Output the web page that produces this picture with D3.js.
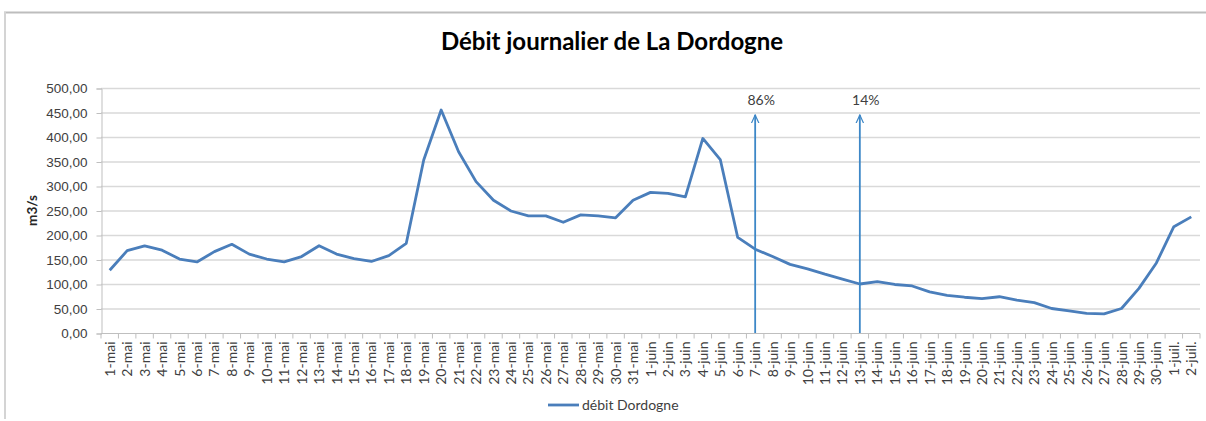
<!DOCTYPE html>
<html>
<head>
<meta charset="utf-8">
<script src="https://cdn.jsdelivr.net/npm/d3@7"></script>
<style>
  body { margin: 0; background: #fff; }
  svg { display: block; font-family: Lato, "Open Sans", sans-serif; }
</style>
</head>
<body>
<svg id="chart" width="1206" height="421"></svg>
<script>
// days shown on the x axis
const days = [
  "1-mai","2-mai","3-mai","4-mai","5-mai","6-mai","7-mai","8-mai","9-mai","10-mai",
  "11-mai","12-mai","13-mai","14-mai","15-mai","16-mai","17-mai","18-mai","19-mai","20-mai",
  "21-mai","22-mai","23-mai","24-mai","25-mai","26-mai","27-mai","28-mai","29-mai","30-mai","31-mai",
  "1-juin","2-juin","3-juin","4-juin","5-juin","6-juin","7-juin","8-juin","9-juin","10-juin",
  "11-juin","12-juin","13-juin","14-juin","15-juin","16-juin","17-juin","18-juin","19-juin","20-juin",
  "21-juin","22-juin","23-juin","24-juin","25-juin","26-juin","27-juin","28-juin","29-juin","30-juin",
  "1-juil.","2-juil."
];

// débit Dordogne (m3/s)
const debit = [
  128, 168, 178, 169, 151, 145, 166, 181, 161, 151,
  145, 156, 178, 161, 152, 146, 158, 183, 353, 455,
  370, 309, 271, 249, 239, 239, 226, 241, 239, 235, 271,
  287, 285, 278, 397, 354, 195, 171, 156, 140, 131,
  120, 110, 100, 105, 99, 96, 84, 77, 73, 70,
  74, 67, 62, 50, 45, 40, 39, 50, 91, 143,
  217, 237
];

const yTicks = [0, 50, 100, 150, 200, 250, 300, 350, 400, 450, 500];

// vertical arrows with their percentages
const markers = [
  { day: "7-juin", label: "86%" },
  { day: "13-juin", label: "14%" }
];

const svg = d3.select("#chart");
const plotL = 101, plotR = 1200, plotT = 88, plotB = 333;

// chart frame
svg.append("line").attr("x1", 4).attr("x2", 1206).attr("y1", 12.5).attr("y2", 12.5)
  .attr("stroke", "#bdbdbd").attr("stroke-width", 2);
svg.append("line").attr("x1", 5).attr("x2", 5).attr("y1", 12).attr("y2", 419)
  .attr("stroke", "#d4d4d4").attr("stroke-width", 2);

const x = d3.scaleBand().domain(days).range([plotL, plotR]);
const y = d3.scaleLinear().domain([0, 500]).range([plotB, plotT]);

const fmt = v => d3.format(".2f")(v).replace(".", ",");

// horizontal grid
svg.append("g")
  .selectAll("line")
  .data(yTicks.filter(d => d > 0))
  .join("line")
  .attr("x1", plotL).attr("x2", plotR)
  .attr("y1", d => y(d) + 0.5).attr("y2", d => y(d) + 0.5)
  .attr("stroke", "#d9d9d9").attr("stroke-width", 1.3);

// y axis
const yAxis = svg.append("g")
  .attr("transform", `translate(${plotL + 0.5},0.5)`)
  .call(d3.axisLeft(y).tickValues(yTicks).tickFormat(fmt).tickSizeOuter(0).tickSize(5).tickPadding(9));
yAxis.select(".domain").attr("stroke", "#bfbfbf");
yAxis.selectAll(".tick line").attr("stroke", "#bfbfbf");
yAxis.selectAll("text").attr("fill", "#404040").style("font-size", "13.5px");

svg.append("text")
  .attr("transform", `translate(37,${(plotT + plotB) / 2}) rotate(-90)`)
  .attr("text-anchor", "middle")
  .style("font-size", "13.5px").style("font-weight", "bold").attr("fill", "#262626")
  .text("m3/s");

// x axis: ticks between categories
const xAxis = svg.append("g").attr("transform", `translate(0,${plotB + 0.5})`);
xAxis.append("line").attr("x1", plotL).attr("x2", plotR).attr("stroke", "#bfbfbf");
xAxis.selectAll("line.tk")
  .data(d3.range(days.length + 1))
  .join("line").attr("class", "tk")
  .attr("x1", i => plotL + i * x.bandwidth()).attr("x2", i => plotL + i * x.bandwidth())
  .attr("y1", 0).attr("y2", 5)
  .attr("stroke", "#bfbfbf");
xAxis.selectAll("text")
  .data(days)
  .join("text")
  .attr("transform", d => `translate(${x(d) + x.bandwidth() / 2 + 5},8) rotate(-90)`)
  .attr("text-anchor", "end")
  .style("font-size", "14px").attr("fill", "#404040")
  .text(d => d);

// data line
const line = d3.line()
  .x((d, i) => x(days[i]) + x.bandwidth() / 2)
  .y(d => y(d));

svg.append("path")
  .datum(debit)
  .attr("d", line)
  .attr("fill", "none")
  .attr("stroke", "#4a7ebb")
  .attr("stroke-width", 2.8)
  .attr("stroke-linejoin", "round");

// arrows
const arrowColor = "#3d87c7";
svg.append("defs").append("marker")
  .attr("id", "arrowhead")
  .attr("viewBox", "0 -6 12 12")
  .attr("refX", 11).attr("refY", 0)
  .attr("markerWidth", 9).attr("markerHeight", 9)
  .attr("markerUnits", "userSpaceOnUse")
  .attr("orient", "auto")
  .append("path")
  .attr("d", "M0,-5L11,0L0,5")
  .attr("fill", "none")
  .attr("stroke", arrowColor)
  .attr("stroke-width", 1.6);

const mk = svg.append("g").selectAll("g").data(markers).join("g");
mk.append("line")
  .attr("x1", d => x(d.day) + x.bandwidth() / 2).attr("x2", d => x(d.day) + x.bandwidth() / 2)
  .attr("y1", plotB).attr("y2", y(445))
  .attr("stroke", arrowColor).attr("stroke-width", 1.8)
  .attr("marker-end", "url(#arrowhead)");
mk.append("text")
  .attr("x", d => x(d.day) + x.bandwidth() / 2 + 6)
  .attr("y", y(445) - 10)
  .attr("text-anchor", "middle")
  .style("font-size", "14px").attr("fill", "#404040")
  .text(d => d.label);

// title
svg.append("text")
  .attr("x", 612).attr("y", 50)
  .attr("text-anchor", "middle")
  .style("font-size", "24px").style("font-weight", "bold").attr("fill", "#000")
  .text("Débit journalier de La Dordogne");

// legend
const lg = svg.append("g").attr("transform", "translate(548,405)");
lg.append("line").attr("x1", 0).attr("x2", 31).attr("stroke", "#4a7ebb").attr("stroke-width", 2.8);
lg.append("text").attr("x", 34).attr("y", 5)
  .style("font-size", "14px").attr("fill", "#404040")
  .text("débit Dordogne");
</script>
</body>
</html>
